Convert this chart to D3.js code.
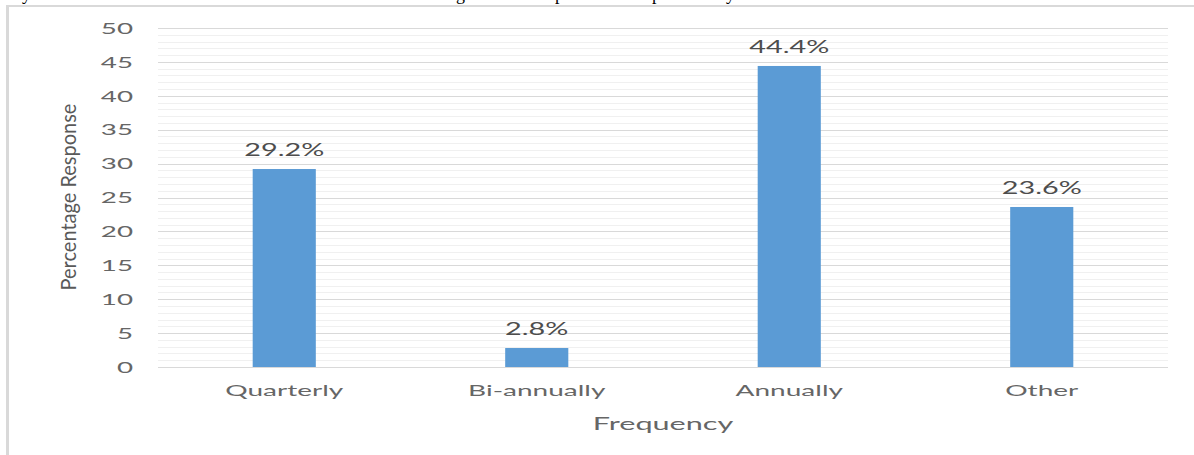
<!DOCTYPE html>
<html>
<head>
<meta charset="utf-8">
<script src="https://cdn.jsdelivr.net/npm/d3@7"></script>
<style>
  html, body { margin: 0; padding: 0; background: #fff; }
  svg { display: block; }
</style>
</head>
<body>
<svg id="chart" width="1194" height="455"></svg>
<script>
// Survey results: how often the review is carried out
const categories = ["Quarterly", "Bi-annually", "Annually", "Other"];
const responses = [29.2, 2.8, 44.4, 23.6];
const yTicks = [0, 5, 10, 15, 20, 25, 30, 35, 40, 45, 50];
const yMinorTicks = d3.range(0, 51, 1);
const yAxisTitle = "Percentage Response";
const xAxisTitle = "Frequency";

const svg = d3.select("#chart");
const W = 1194, H = 455;
const plot = { left: 158, right: 1168, top: 28, bottom: 367 };

const textColor = "#666666";
const gridMajor = "#d9d9d9";
const gridMinor = "#f0f0f0";
const barColor = "#5b9bd5";
const font = "Lato, 'Open Sans', sans-serif";

// widen text horizontally by factor k, keeping its anchor
function widen(sel, k) {
  sel.each(function () {
    const n = this.getComputedTextLength();
    d3.select(this).attr("textLength", n * k).attr("lengthAdjust", "spacingAndGlyphs");
  });
}

// tail end of the caption line that sits above the chart
const captionBits = [["y", 22], ["g", 456], ["p", 555], ["p", 652], ["y", 726]];
svg.append("g")
  .selectAll("text").data(captionBits).join("text")
  .attr("x", d => d[1]).attr("y", -0.5)
  .attr("font-family", "'Liberation Serif', serif")
  .attr("font-size", 18).attr("fill", "#000")
  .text(d => d[0]);

// chart frame
svg.append("line").attr("x1", 6).attr("x2", W).attr("y1", 6).attr("y2", 6)
  .attr("stroke", gridMajor).attr("stroke-width", 2);
svg.append("line").attr("x1", 7.5).attr("x2", 7.5).attr("y1", 5).attr("y2", H)
  .attr("stroke", gridMajor).attr("stroke-width", 3);

const x = d3.scaleBand().domain(categories).range([plot.left, plot.right]).padding(0);
const y = d3.scaleLinear().domain([0, 50]).range([plot.bottom, plot.top]);

// minor grid
svg.append("g")
  .selectAll("line").data(yMinorTicks.filter(v => v % 5 !== 0)).join("line")
  .attr("x1", plot.left).attr("x2", plot.right)
  .attr("y1", d => Math.round(y(d)) + 0.5).attr("y2", d => Math.round(y(d)) + 0.5)
  .attr("stroke", gridMinor).attr("stroke-width", 1);

// major grid
svg.append("g")
  .selectAll("line").data(yTicks).join("line")
  .attr("x1", plot.left).attr("x2", plot.right)
  .attr("y1", d => Math.round(y(d)) + 0.5).attr("y2", d => Math.round(y(d)) + 0.5)
  .attr("stroke", gridMajor).attr("stroke-width", 1);

// y axis labels
const yAxis = svg.append("g")
  .attr("transform", `translate(${plot.left - 25},0)`)
  .call(d3.axisLeft(y).tickValues(yTicks).tickSize(0).tickPadding(0));
yAxis.select(".domain").remove();
yAxis.selectAll("text")
  .attr("font-family", font).attr("font-size", 15).attr("fill", textColor)
  .attr("dy", "0.35em")
  .call(widen, 1.85);

// bars
const barW = x.bandwidth() * 0.25;
svg.append("g")
  .selectAll("rect").data(responses).join("rect")
  .attr("x", (d, i) => x(categories[i]) + x.bandwidth() / 2 - barW / 2)
  .attr("y", d => y(d))
  .attr("width", barW)
  .attr("height", d => y(0) - y(d))
  .attr("fill", barColor);

// value labels
svg.append("g")
  .selectAll("text").data(responses).join("text")
  .attr("x", (d, i) => x(categories[i]) + x.bandwidth() / 2)
  .attr("y", d => y(d) - 13)
  .attr("text-anchor", "middle")
  .attr("font-family", font).attr("font-size", 18).attr("fill", "#4d4d4d")
  .text(d => d.toFixed(1) + "%")
  .call(widen, 1.6);

// x axis labels
const xAxis = svg.append("g")
  .attr("transform", `translate(0,${plot.bottom})`)
  .call(d3.axisBottom(x).tickSize(0).tickPadding(0));
xAxis.select(".domain").remove();
xAxis.selectAll("text")
  .attr("font-family", font).attr("font-size", 16).attr("fill", textColor)
  .attr("y", 29).attr("dy", 0)
  .call(widen, 1.75);

// axis titles
svg.append("text")
  .attr("x", (plot.left + plot.right) / 2).attr("y", 430)
  .attr("text-anchor", "middle")
  .attr("font-family", font).attr("font-size", 18).attr("fill", textColor)
  .text(xAxisTitle)
  .call(widen, 1.7);

svg.append("text")
  .attr("transform", "translate(76,197) scale(1.3,1) rotate(-90)")
  .attr("text-anchor", "middle")
  .attr("font-family", font).attr("font-size", 16).attr("fill", "#595959")
  .text(yAxisTitle)
  .call(widen, 1.25);
</script>
</body>
</html>
